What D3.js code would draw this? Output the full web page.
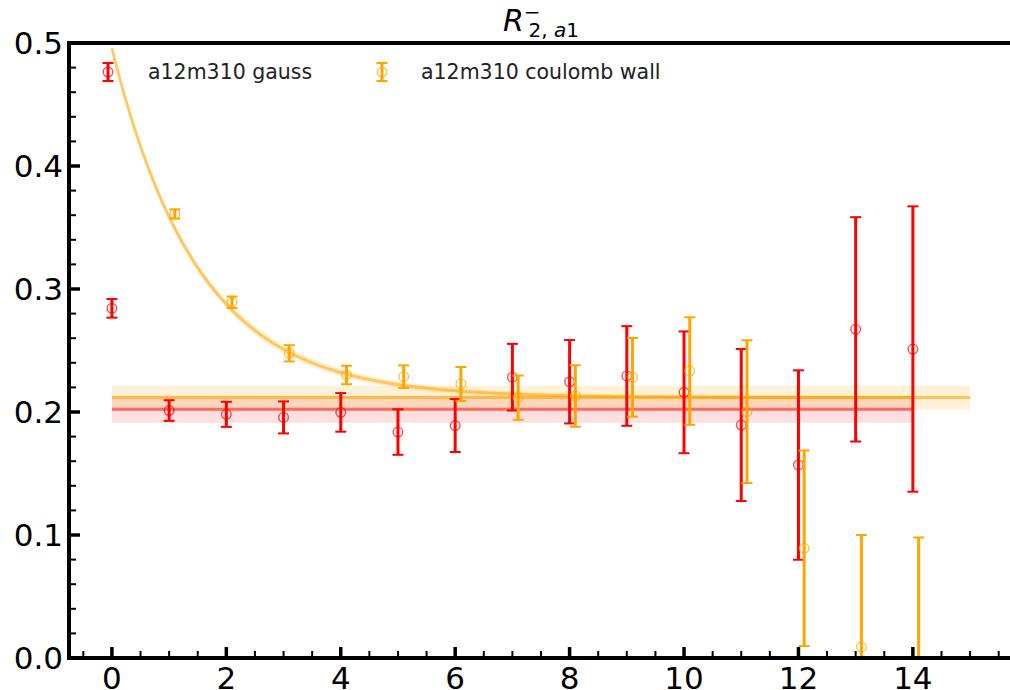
<!DOCTYPE html>
<html><head><meta charset="utf-8">
<script src="https://cdn.jsdelivr.net/npm/d3@7/dist/d3.min.js"></script>
<style>body{margin:0;background:#fff}svg{display:block;font-family:"DejaVu Sans",sans-serif}</style>
</head><body><svg id="c" width="1010" height="690"></svg>
<script>
// ---- data ----
const tGauss = [0,1,2,3,4,5,6,7,8,9,10,11,12,13,14];
const gaussVal = [0.2843,0.2012,0.1981,0.1956,0.1997,0.1837,0.1890,0.2283,0.2246,0.2293,0.2160,0.1894,0.1569,0.2672,0.2512];
const gaussErr = [0.0076,0.0084,0.0102,0.0130,0.0157,0.0185,0.0215,0.0271,0.0339,0.0405,0.0495,0.0618,0.0770,0.0912,0.1160];
const tCoul = [1,2,3,4,5,6,7,8,9,10,11,12,13,14];
const coulVal = [0.3610,0.2892,0.2477,0.2301,0.2287,0.2228,0.2116,0.2130,0.2282,0.2333,0.2003,0.0892,0.0089,-0.0120];
const coulErr = [0.0038,0.0047,0.0066,0.0075,0.0092,0.0138,0.0180,0.0250,0.0320,0.0437,0.0580,0.0795,0.0911,0.1100];
const gaussFit = {value:0.2022, err:0.0111, t0:0, t1:14};
const coulFit = {value:0.2118, err:0.0096, t0:0, t1:15};
const expFit = {c:0.2118, A:0.284, E:0.66, t0:0, t1:14, band:0.005};
const xTicks = [0,2,4,6,8,10,12,14];
const yTicks = [0.0,0.1,0.2,0.3,0.4,0.5];
const legendLabels = ["a12m310 gauss","a12m310 coulomb wall"];
const RED = "#ff0000", ORANGE = "#ffa500";

const svg = d3.select("#c");
const L=69, R=1013, T=43, B=658;
const x = d3.scaleLinear().domain([-0.75,15.75]).range([L,R]);
const y = d3.scaleLinear().domain([0,0.5]).range([B,T]);

svg.append("clipPath").attr("id","clip").append("rect").attr("x",L).attr("y",T).attr("width",R-L).attr("height",B-T);
const plot = svg.append("g").attr("clip-path","url(#clip)");

// constant fits
function constFit(f,color,bandOp,lineOp){
  plot.append("rect").attr("x",x(f.t0)).attr("width",x(f.t1)-x(f.t0))
    .attr("y",y(f.value+f.err)).attr("height",y(f.value-f.err)-y(f.value+f.err))
    .attr("fill",color).attr("opacity",bandOp);
  plot.append("line").attr("x1",x(f.t0)).attr("x2",x(f.t1)).attr("y1",y(f.value)).attr("y2",y(f.value))
    .attr("stroke",color).attr("stroke-width",3).attr("opacity",lineOp);
}
constFit(gaussFit,RED,0.12,0.55);
constFit(coulFit,ORANGE,0.15,0.6);

// exponential fit curve
const ts = d3.range(expFit.t0, expFit.t1+0.001, 0.05);
const fexp = t => expFit.c + expFit.A*Math.exp(-expFit.E*t);
const bw = t => expFit.band*Math.min(1,0.4+t*0.2)*Math.exp(-0.12*t);
const area = d3.area().x(t=>x(t)).y0(t=>y(fexp(t)-bw(t))).y1(t=>y(fexp(t)+bw(t)));
plot.append("path").datum(ts).attr("d",area).attr("fill",ORANGE).attr("opacity",0.18);
plot.append("path").datum(ts).attr("d",d3.line().x(t=>x(t)).y(t=>y(fexp(t))))
  .attr("fill","none").attr("stroke",ORANGE).attr("stroke-width",3).attr("opacity",0.55);

// error bars
function errBars(g, ts, vals, errs, dx, color){
  const gg = g.append("g");
  ts.forEach((t,i)=>{
    const cx = x(t+dx), v=vals[i], e=errs[i];
    gg.append("line").attr("x1",cx).attr("x2",cx).attr("y1",y(v-e)).attr("y2",y(v+e))
      .attr("stroke",color).attr("stroke-width",3);
    [v-e,v+e].forEach(w=>gg.append("line").attr("x1",cx-5.5).attr("x2",cx+5.5).attr("y1",y(w)).attr("y2",y(w))
      .attr("stroke",color).attr("stroke-width",2));
    gg.append("circle").attr("cx",cx).attr("cy",y(v)).attr("r",4.8)
      .attr("fill","none").attr("stroke",color).attr("stroke-width",1.4).attr("opacity",0.7);
  });
}
errBars(plot,tGauss,gaussVal,gaussErr,0,RED);
errBars(plot,tCoul,coulVal,coulErr,0.1,ORANGE);

// axes spines
const ax = svg.append("g");
ax.append("rect").attr("x",L).attr("y",T).attr("width",R-L).attr("height",B-T)
  .attr("fill","none").attr("stroke","#000").attr("stroke-width",4);

// y ticks
const yMinor = d3.range(0,0.5001,0.02);
yMinor.forEach(v=>ax.append("line").attr("x1",L).attr("x2",L+7).attr("y1",y(v)).attr("y2",y(v)).attr("stroke","#000").attr("stroke-width",2));
yTicks.forEach(v=>{
  ax.append("line").attr("x1",L).attr("x2",L+11).attr("y1",y(v)).attr("y2",y(v)).attr("stroke","#000").attr("stroke-width",3.5);
  ax.append("text").attr("x",L-6).attr("y",y(v)).attr("dy","0.36em").attr("text-anchor","end")
    .attr("font-size",31).attr("fill","#000").text(d3.format(".1f")(v));
});
// x ticks
const xMinor = d3.range(-0.5,15.6,0.5);
xMinor.forEach(v=>ax.append("line").attr("x1",x(v)).attr("x2",x(v)).attr("y1",B).attr("y2",B-7).attr("stroke","#000").attr("stroke-width",2));
xTicks.forEach(v=>{
  ax.append("line").attr("x1",x(v)).attr("x2",x(v)).attr("y1",B).attr("y2",B-11).attr("stroke","#000").attr("stroke-width",3.5);
  ax.append("text").attr("x",x(v)).attr("y",B+31).attr("text-anchor","middle")
    .attr("font-size",31).attr("fill","#000").text(v);
});

// title
const title = svg.append("text").attr("x",(L+R)/2).attr("y",31).attr("text-anchor","middle").attr("font-size",30).attr("fill","#000");
title.append("tspan").attr("font-style","italic").text("R");
title.append("tspan").attr("font-size",20).attr("dy",-12).text("\u2212");
title.append("tspan").attr("font-size",20).attr("dx",-12).attr("dy",18).text("2, ");
title.append("tspan").attr("font-size",20).attr("font-style","italic").text("a");
title.append("tspan").attr("font-size",20).text("1");

// legend
const leg = svg.append("g");
[[108,RED,legendLabels[0],148],[382,ORANGE,legendLabels[1],421]].forEach(([lx,col,lab,tx])=>{
  const ly=72;
  leg.append("line").attr("x1",lx).attr("x2",lx).attr("y1",ly-9).attr("y2",ly+9).attr("stroke",col).attr("stroke-width",3);
  [ly-9,ly+9].forEach(w=>leg.append("line").attr("x1",lx-5.5).attr("x2",lx+5.5).attr("y1",w).attr("y2",w).attr("stroke",col).attr("stroke-width",2));
  leg.append("circle").attr("cx",lx).attr("cy",ly).attr("r",4.8).attr("fill","none").attr("stroke",col).attr("stroke-width",1.4).attr("opacity",0.7);
  leg.append("text").attr("x",tx).attr("y",ly).attr("dy","0.36em").attr("font-size",20.5).attr("fill","#222").text(lab);
});
</script></body></html>
